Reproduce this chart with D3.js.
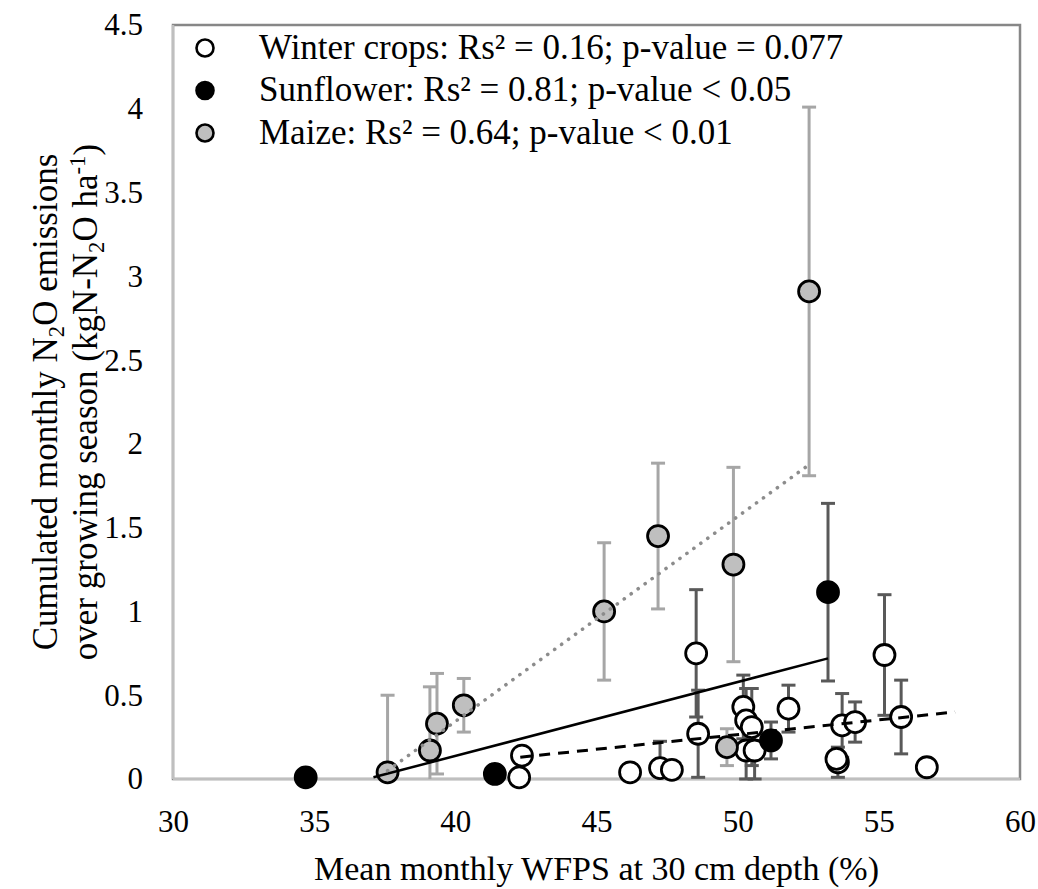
<!DOCTYPE html>
<html><head><meta charset="utf-8">
<script src="https://cdn.jsdelivr.net/npm/d3@7/dist/d3.min.js"></script>
<style>
body{margin:0;background:#fff}
svg text{font-family:"Liberation Serif","Times New Roman",serif !important;fill:#000}
</style>
</head><body>
<svg id="c" width="1038" height="889"></svg>
<script>
// ---- data ----
const xTicks=[30,35,40,45,50,55,60];
const yTicks=[0,0.5,1,1.5,2,2.5,3,3.5,4,4.5];

const winterX=[42.26,42.36,46.19,47.25,47.67,48.53,48.6,50.2,50.3,50.5,50.3,50.6,51.8,53.55,53.5,53.7,54.16,55.2,55.79,56.7];
const winterY=[0.01,0.14,0.04,0.065,0.055,0.75,0.27,0.43,0.35,0.31,0.17,0.17,0.42,0.10,0.12,0.32,0.34,0.74,0.37,0.07];
const winterErr=[0,0,0,0.16,0,0.38,0.26,0.19,0.19,0.23,0.17,0.17,0.14,0.09,0,0.19,0.12,0.36,0.22,0];

const sunX=[34.7,41.4,51.18,53.2];
const sunY=[0.01,0.03,0.23,1.115];
const sunErr=[0,0,0.11,0.53];

const maizeX=[37.6,39.1,39.35,40.3,45.27,47.18,49.62,49.85,52.53];
const maizeY=[0.04,0.17,0.33,0.44,1.0,1.45,0.19,1.28,2.91];
const maizeErr=[0.46,0.38,0.30,0.16,0.41,0.435,0.11,0.58,1.10];

const winterTrend=[[42.3,0.13],[57.7,0.40]];
const sunTrend=[[37.1,0.01],[53.2,0.72]];
const maizeTrend=[[37.6,0.05],[52.4,1.86]];

const legendLabels=["Winter crops: Rs\u00B2 = 0.16; p-value = 0.077","Sunflower: Rs\u00B2 = 0.81; p-value < 0.05","Maize: Rs\u00B2 = 0.64; p-value < 0.01"];

// ---- drawing ----
const svg=d3.select("#c");
const L=173,R=1020,T=25,B=779;
const x=d3.scaleLinear().domain([30,60]).range([L,R]);
const y=d3.scaleLinear().domain([0,4.5]).range([B,T]);
const FF="Liberation Serif";

const series=[
 {xs:winterX,ys:winterY,es:winterErr,fill:"#ffffff",ebar:"#595959"},
 {xs:sunX,ys:sunY,es:sunErr,fill:"#000000",ebar:"#595959"},
 {xs:maizeX,ys:maizeY,es:maizeErr,fill:"#bfbfbf",ebar:"#a6a6a6"}
];

// plot border
svg.append("rect").attr("x",L).attr("y",T).attr("width",R-L).attr("height",B-T)
  .attr("fill","none").attr("stroke","#878787").attr("stroke-width",2.5);
svg.append("line").attr("x1",L).attr("x2",L).attr("y1",T).attr("y2",B).attr("stroke","#bfbfbf").attr("stroke-width",2.5);
svg.append("line").attr("x1",L).attr("x2",R).attr("y1",B).attr("y2",B).attr("stroke","#bfbfbf").attr("stroke-width",2.5);

// axes
const tfs=31;
const gx=svg.append("g").attr("transform",`translate(0,${B})`)
  .call(d3.axisBottom(x).tickValues(xTicks).tickSize(0).tickPadding(31).tickFormat(d=>String(d)));
gx.select(".domain").remove();
gx.attr("font-family",FF);
gx.selectAll("text").attr("font-size",tfs);
const gy=svg.append("g").attr("transform",`translate(${L},0)`)
  .call(d3.axisLeft(y).tickValues(yTicks).tickSize(0).tickPadding(30).tickFormat(d=>String(d)));
gy.select(".domain").remove();
gy.attr("font-family",FF);
gy.selectAll("text").attr("font-size",tfs);

// error bars
const cap=7;
series.forEach(s=>{
  const g=svg.append("g").attr("stroke",s.ebar).attr("stroke-width",3);
  s.xs.forEach((xv,i)=>{
    const e=s.es[i]; if(!e) return;
    const top=Math.min(4.5,s.ys[i]+e), bot=Math.max(0,s.ys[i]-e);
    const cx=x(xv);
    g.append("line").attr("x1",cx).attr("x2",cx).attr("y1",y(top)).attr("y2",y(bot));
    g.append("line").attr("x1",cx-cap).attr("x2",cx+cap).attr("y1",y(top)).attr("y2",y(top));
    if(s.ys[i]-e>=0) g.append("line").attr("x1",cx-cap).attr("x2",cx+cap).attr("y1",y(bot)).attr("y2",y(bot));
  });
});

// markers
series.forEach(s=>{
  svg.append("g").selectAll("circle").data(s.xs.map((v,i)=>[v,s.ys[i]])).join("circle")
    .attr("cx",d=>x(d[0])).attr("cy",d=>y(d[1])).attr("r",10.5)
    .attr("fill",s.fill).attr("stroke","#000").attr("stroke-width",2.8);
});

// trendlines
const line=d3.line().x(d=>x(d[0])).y(d=>y(d[1]));
svg.append("path").attr("d",line(sunTrend)).attr("fill","none").attr("stroke","#000").attr("stroke-width",2.5);
svg.append("path").attr("d",line(winterTrend)).attr("fill","none").attr("stroke","#000").attr("stroke-width",3).attr("stroke-dasharray","11,8");
svg.append("path").attr("d",line(maizeTrend)).attr("fill","none").attr("stroke","#8c8c8c").attr("stroke-width",3.6)
  .attr("stroke-linecap","round").attr("stroke-dasharray","0.1,8.5");

// legend
const lg=svg.append("g").attr("font-family",FF);
const fills=["#ffffff","#000000","#bfbfbf"];
legendLabels.forEach((t,i)=>{
  const yy=48+i*42.5;
  lg.append("circle").attr("cx",205).attr("cy",yy).attr("r",8.5).attr("fill",fills[i]).attr("stroke","#000").attr("stroke-width",2.6);
  lg.append("text").attr("x",259).attr("y",yy).attr("dy","0.3em").attr("font-size",35).text(t);
});

// x title
svg.append("text").attr("font-family",FF).attr("x",(L+R)/2).attr("y",880).attr("text-anchor","middle").attr("font-size",34)
  .text("Mean monthly WFPS at 30 cm depth (%)");

// y title
const yfs=35;
const yt=svg.append("text").attr("font-family",FF).attr("transform",`translate(0,${(T+B)/2}) rotate(-90)`).attr("text-anchor","middle").attr("font-size",yfs);
const l1=yt.append("tspan").attr("x",0).attr("y",57);
l1.append("tspan").text("Cumulated monthly N");
l1.append("tspan").attr("font-size",yfs*0.65).attr("dy","0.3em").text("2");
l1.append("tspan").attr("dy","-0.2em").text("O emissions");
const l2=yt.append("tspan").attr("x",0).attr("y",97);
l2.append("tspan").text("over growing season (kgN-N");
l2.append("tspan").attr("font-size",yfs*0.65).attr("dy","0.3em").text("2");
l2.append("tspan").attr("dy","-0.2em").text("O ha");
l2.append("tspan").attr("font-size",yfs*0.65).attr("dy","-0.5em").text("-1");
l2.append("tspan").attr("dy","0.35em").text(")");
</script>
</body></html>
